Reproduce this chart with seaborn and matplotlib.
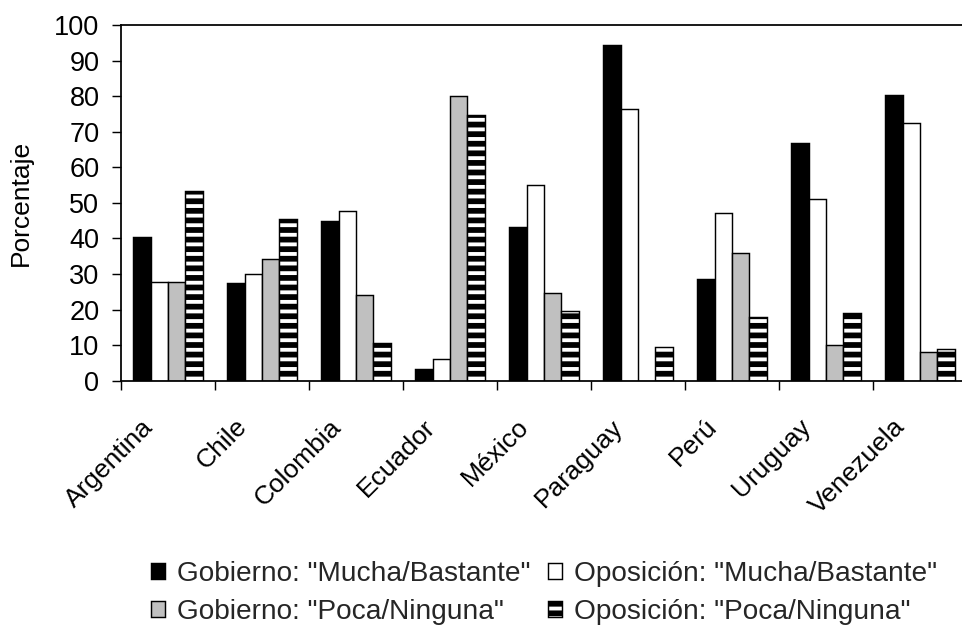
import numpy as np
import pandas as pd
import matplotlib
matplotlib.use("Agg")
import matplotlib.pyplot as plt
from matplotlib.colors import to_rgba
from matplotlib.transforms import ScaledTranslation
import seaborn as sns

# Confianza en el gobierno y en la oposición, por país (%)
paises = ["Argentina", "Chile", "Colombia", "Ecuador", "México",
          "Paraguay", "Perú", "Uruguay", "Venezuela"]
gobierno_mucha = [40.4, 27.5, 44.9, 3.3, 43.2, 94.5, 28.7, 66.8, 80.3]
oposicion_mucha = [27.7, 30.1, 47.6, 6.0, 55.0, 76.3, 47.1, 51.0, 72.4]
gobierno_poca = [27.7, 34.1, 24.0, 80.1, 24.6, 0.0, 35.8, 10.0, 8.2]
oposicion_poca = [53.3, 45.4, 10.6, 74.7, 19.6, 9.4, 18.0, 18.9, 8.9]

series = ['Gobierno: "Mucha/Bastante"', 'Oposición: "Mucha/Bastante"',
          'Gobierno: "Poca/Ninguna"', 'Oposición: "Poca/Ninguna"']
valores = [gobierno_mucha, oposicion_mucha, gobierno_poca, oposicion_poca]
yticks = list(range(0, 101, 10))

df = pd.DataFrame({
    "pais": np.repeat([paises], len(series), axis=0).ravel(),
    "serie": np.repeat(series, len(paises)),
    "valor": np.concatenate(valores),
})

sns.set_theme(style="white")
plt.rcParams["font.family"] = ["Liberation Sans", "DejaVu Sans"]
plt.rcParams["hatch.linewidth"] = 2.4

DPI = 115
fig = plt.figure(figsize=(962 / DPI, 630 / DPI), dpi=DPI)
ax = fig.add_axes([121 / 962, (630 - 380.7) / 630, 846 / 962, 355.7 / 630])

colores = ["#000000", "#ffffff", "#c0c0c0", "#000000"]
sns.barplot(data=df, x="pais", y="valor", hue="serie", hue_order=series,
            order=paises, palette=colores, saturation=1, width=0.74, gap=0,
            edgecolor="black", linewidth=0.9, legend=False, ax=ax)

# Franjas blancas horizontales para la última serie
for barra in ax.containers[3]:
    barra.set_hatch("--")
    barra._hatch_color = to_rgba("white")

ax.set_xlim(-0.5, len(paises) - 0.5)
ax.set_ylim(0, 100)
ax.set_yticks(yticks)
ax.set_xlabel("")
ax.set_ylabel("Porcentaje", fontsize=16.5, color="black")
ax.yaxis.set_label_coords(-0.104, 0.5)

for lado in ["left", "bottom", "top", "right"]:
    ax.spines[lado].set_color("black")
    ax.spines[lado].set_linewidth(1.1)

ax.tick_params(axis="y", which="major", direction="out", length=5.5,
               width=0.9, color="black", labelsize=17, labelcolor="black",
               pad=8, left=True)
ax.set_xticks(np.arange(len(paises)))
ax.set_xticks(np.arange(len(paises) + 1) - 0.5, minor=True)
ax.tick_params(axis="x", which="minor", direction="out", length=5.5,
               width=0.9, color="black", bottom=True)
ax.tick_params(axis="x", which="major", length=0, labelsize=16.5,
               labelcolor="black", pad=26.5)
desplazamiento = ScaledTranslation(-19 / DPI, 0, fig.dpi_scale_trans)
for etiqueta in ax.get_xticklabels():
    etiqueta.set_rotation(45)
    etiqueta.set_ha("right")
    etiqueta.set_va("center")
    etiqueta.set_rotation_mode("anchor")
    etiqueta.set_transform(etiqueta.get_transform() + desplazamiento)

orden = [0, 2, 1, 3]
ax.legend([ax.containers[i] for i in orden], [series[i] for i in orden],
          ncol=2, loc="upper center", bbox_to_anchor=(0.5, -0.4746),
          frameon=False, fontsize=17.5, handlelength=0.5, handleheight=0.5,
          handletextpad=0.43, columnspacing=0.6, labelspacing=0.44,
          borderaxespad=0)

fig.savefig("out.png", dpi=DPI)
